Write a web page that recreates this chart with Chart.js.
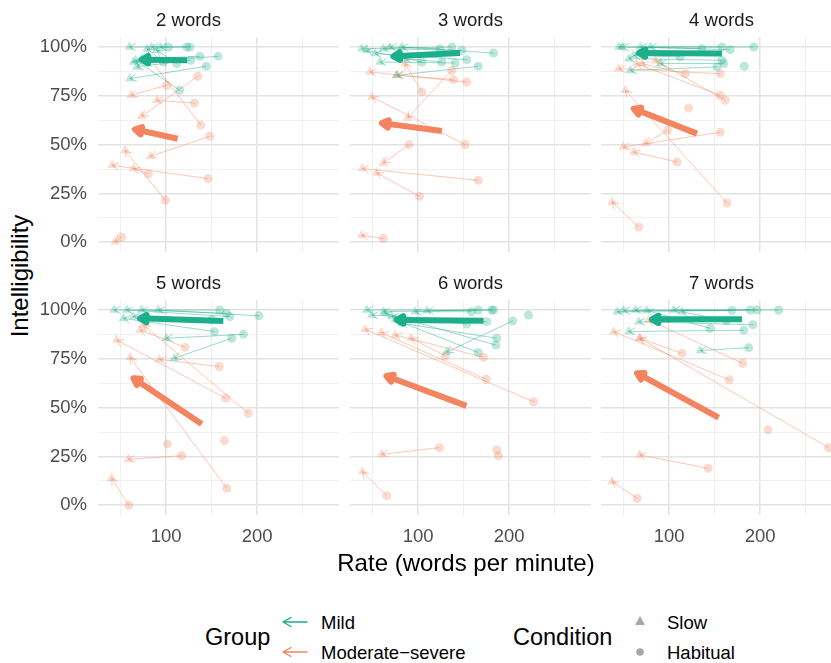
<!DOCTYPE html>
<html>
<head>
<meta charset="utf-8">
<script src="https://cdn.jsdelivr.net/npm/chart.js@4.4.1/dist/chart.umd.min.js"></script>
<style>
html, body { margin: 0; padding: 0; width: 831px; height: 663px; overflow: hidden; background: #fff; }
body { font-family: 'Liberation Sans', Arial, sans-serif; }
.panel { position: absolute; }
.txt { position: absolute; white-space: nowrap; color: #000; transform: translateY(-50%); line-height: 1; }
</style>
</head>
<body>
<div id="panels"></div>
<div class="txt" id="ytitle" style="left:20px; top:276px; font-size:24px; transform: translate(-50%,-50%) rotate(-90deg);">Intelligibility</div>
<div class="txt" id="xtitle" style="left:466px; top:563px; font-size:24px; transform: translate(-50%,-50%);">Rate (words per minute)</div>

<div class="txt" style="left:205px; top:638px; font-size:23.5px;">Group</div>
<div class="txt" style="left:321px; top:623px; font-size:18.5px;" id="lgMild"></div>
<div class="txt" style="left:321px; top:653px; font-size:18.5px;" id="lgMod"></div>
<div class="txt" style="left:513px; top:638px; font-size:23.5px;">Condition</div>
<div class="txt" style="left:667px; top:623px; font-size:18.5px;" id="lgSlow"></div>
<div class="txt" style="left:667px; top:653px; font-size:18.5px;" id="lgHab"></div>
<svg width="831" height="663" style="position:absolute; left:0; top:0; pointer-events:none;">
  <g fill="none" stroke-width="1.4" stroke-linecap="round">
    <path id="arMild" d="M283 622 H307 M283 622 L291 617.5 M283 622 L291 626.5"/>
    <path id="arMod" d="M283 652 H307 M283 652 L291 647.5 M283 652 L291 656.5"/>
  </g>
  <polygon points="640,616 645,625 635,625" fill="#a8a8a8"/>
  <circle cx="640" cy="652" r="3.8" fill="#a8a8a8"/>
</svg>

<script>
// --- categorías y ejes ---
const panelTitles = ['2 words', '3 words', '4 words', '5 words', '6 words', '7 words'];
const groups = ['Mild', 'Moderate\u2212severe'];
const conditions = ['Slow', 'Habitual'];
const xTickLabels = [100, 200];
const yTickLabels = [0, 25, 50, 75, 100];

// filas por hablante: [rate habitual, % habitual, rate slow, % slow]
const mild2 = [[126, 100, 59.5, 100], [122.5, 100, 84, 100], [102.5, 100, 93.4, 100], [157, 95.2, 64, 92.3],
  [144, 90.1, 60, 83.8], [137, 95.2, 73, 94], [115, 77.8, 66.5, 93.2], [127, 93.2, 67.6, 89.8],
  [111.5, 91.5, 89.5, 98.3], [97, 92.3, 79, 99]];
const mod2 = [[134.8, 85, 73, 64.5], [100.5, 80.4, 61.5, 75.3], [131, 71.3, 89.5, 72.7], [138, 60, 82, 94],
  [148, 54.3, 82.6, 44], [146, 32.6, 40.6, 39.4], [99, 21.5, 54.8, 47], [80.4, 35, 64, 37.7], [51, 2.7, 43.8, 0.2]];

const mild3 = [[137, 100, 37.9, 99.1], [148, 98.3, 61.7, 99.1], [182.8, 96.9, 82, 100], [166, 90.1, 76.4, 85.5],
  [153.4, 93.5, 52.6, 96.6], [140.6, 91.8, 58, 92.3], [126, 92.3, 85.6, 94], [104, 92.3, 43.4, 98.3], [124, 99.1, 69, 100]];
const mod3 = [[153.4, 82, 47, 87.2], [138.8, 83.3, 76.4, 85.5], [104, 77, 85.6, 91.5], [137, 88, 88.5, 63.8],
  [151.6, 50, 49, 74.4], [90, 50, 61.7, 40.6], [166, 31.7, 38.6, 37.7], [101.4, 23.5, 54.4, 35.5], [61.7, 1.9, 37.9, 3.6]];

const mild4 = [[192.9, 100, 79.3, 100], [158, 100, 44.5, 100], [167, 98.6, 68.3, 100], [158, 93.2, 55.5, 94],
  [160, 91.5, 90.3, 91.5], [152.6, 89.8, 57.3, 88], [182.6, 90.1, null, null], [136, 99.1, 48.2, 100], [112, 94.9, 61, 95.7]];
const mod4 = [[156, 86.3, 44.5, 88.9], [117.8, 86.3, 70.2, 91.5], [161.7, 72.7, 85, 93], [156, 75.3, 64, 91.5],
  [121.5, 68.8, null, null], [98.3, 57.3, 73.8, 50.5], [156, 56.3, 49.5, 48.8], [108.6, 41.1, 61, 46.2],
  [163.5, 20.1, 51.8, 77.8], [66.5, 7.8, 37.2, 20.6]];

const mild5 = [[159, 100, 42.6, 100], [170, 96.6, 56.6, 100], [202, 97, 91.3, 100], [153, 88.9, 53, 95.7],
  [185, 87.5, 100, 85.5], [172, 85.5, 109, 75.3], [166, 98.3, 73, 100], [150, 95, 64, 96.6]];
const mod5 = [[120.7, 80.9, 71.2, 89.8], [158.4, 71, 92.5, 74.7], [165.4, 54.8, 45.6, 84.6], [190.3, 47.1, 75, 92.3],
  [166.5, 8.7, 60.3, 75.8], [101.3, 31.4, null, null], [164, 33.1, null, null], [117, 25.4, 58.4, 23.5], [59, 0, 40, 13.8]];

const mild6 = [[181, 100, 43.4, 100], [166, 100, 61.7, 99.1], [158.6, 99.1, 96.6, 99.1], [175.4, 94, 48.9, 97.4],
  [153.4, 92.8, 71, 96.6], [186.4, 85.5, 82, 93.2], [185.3, 82, 63.6, 98.3], [166, 78.2, 74.6, 95],
  [204, 94.4, 131.5, 78.5], [221.3, 97.4, null, null], [182.8, 100, 109.6, 99.6]];
const mod6 = [[129.6, 76.5, 92.2, 85.5], [171.8, 75.8, 74.6, 87.2], [174.7, 64.5, 59.2, 88.4], [226.8, 53, 41.6, 90.1],
  [123.4, 29.5, 60, 26.1], [186.4, 28.3, null, null], [188.2, 25.3, null, null], [65.4, 4.9, 38.6, 17.2]];

const mild7 = [[220.3, 100, 105, 100], [196.5, 100, 42.7, 99.1], [189.2, 100, 62.8, 100], [169, 99.7, 50, 99.7],
  [192, 92.4, 66.5, 94], [182, 89.6, 55.5, 89], [187.4, 80.7, 134, 79.2], [145, 90.6, 75.6, 99.7], [163, 94.5, 114, 99.1]];
const mod7 = [[114, 77.8, 67.6, 85.5], [180.8, 72.7, 77.4, 94.9], [166, 64.2, 39, 88.9], [275.3, 29.5, 67.6, 85.5],
  [208.6, 38.6, null, null], [142.8, 18.9, 67.6, 25.8], [64.8, 3.6, 37.2, 12.1]];

// flechas de promedio por panel: [rate habitual, % habitual, rate slow, % slow]
const mildMean = [[123, 93.2, 73, 93.5], [146, 96.9, 72.7, 95.2], [158, 96.6, 66.5, 96.9],
  [162.8, 94.4, 71.2, 95.7], [171.8, 94.5, 76.4, 94.9], [180, 95.2, 81, 95.2]];
const modMean = [[112.6, 53, 65.7, 57.8], [126, 57, 60, 61], [130.6, 55.6, 61, 68.4],
  [139, 41.6, 64, 65], [153, 50.9, 65, 66.2], [154.4, 44.9, 64.6, 67.6]];

const mildByPanel = [mild2, mild3, mild4, mild5, mild6, mild7];
const modByPanel = [mod2, mod3, mod4, mod5, mod6, mod7];

// --- estilo ---
const groupRGB = ['29,174,140', '243,132,95'];
const PLOT_W = 241, PLOT_H = 215, TITLE_H = 37, YAXIS_W = 60, XAXIS_H = 40;
const colLeft = [98, 350, 601];
const rowTop = [37, 300];

Chart.defaults.font.family = "'Liberation Sans', Arial, sans-serif";

document.getElementById('lgMild').textContent = groups[0];
document.getElementById('lgMod').textContent = groups[1];
document.getElementById('lgSlow').textContent = conditions[0];
document.getElementById('lgHab').textContent = conditions[1];
document.getElementById('arMild').setAttribute('stroke', 'rgb(' + groupRGB[0] + ')');
document.getElementById('arMod').setAttribute('stroke', 'rgb(' + groupRGB[1] + ')');

const rgba = (g, a) => `rgba(${groupRGB[g]},${a})`;

// puntas de flecha dibujadas sobre los puntos ya escalados
const arrowHeads = {
    id: 'arrowHeads',
    afterDatasetDraw(chart, args) {
        const ds = chart.data.datasets[args.index];
        if (!ds.head) return;
        const a = args.meta.data[0], b = args.meta.data[1];
        const ang = Math.atan2(b.y - a.y, b.x - a.x);
        const ctx = chart.ctx;
        const thick = ds.head === 'closed';
        const len = thick ? 7.5 : 7;
        const spread = Math.PI / 6;
        const p1 = [b.x - len * Math.cos(ang - spread), b.y - len * Math.sin(ang - spread)];
        const p2 = [b.x - len * Math.cos(ang + spread), b.y - len * Math.sin(ang + spread)];
        ctx.save();
        ctx.strokeStyle = ds.borderColor;
        ctx.fillStyle = ds.borderColor;
        ctx.lineWidth = ds.borderWidth;
        ctx.lineJoin = 'round';
        ctx.lineCap = 'round';
        ctx.beginPath();
        if (thick) {
            ctx.moveTo(b.x, b.y);
            ctx.lineTo(p1[0], p1[1]);
            ctx.lineTo(p2[0], p2[1]);
            ctx.closePath();
            ctx.fill();
            ctx.stroke();
        } else {
            ctx.moveTo(p1[0], p1[1]);
            ctx.lineTo(b.x, b.y);
            ctx.lineTo(p2[0], p2[1]);
            ctx.stroke();
        }
        ctx.restore();
    }
};

function buildDatasets(p) {
    const sets = [];
    [[mildByPanel[p], mildMean[p]], [modByPanel[p], modMean[p]]].forEach(([rows, mean], g) => {
        rows.forEach(r => {
            if (r[2] === null) return;
            sets.push({
                data: [{ x: r[0], y: r[1] }, { x: r[2], y: r[3] }],
                showLine: true, borderColor: rgba(g, 0.45), borderWidth: 1,
                pointRadius: 0, head: 'open', order: 4 - g
            });
        });
        sets.push({
            data: rows.map(r => ({ x: r[0], y: r[1] })),
            pointStyle: 'circle', pointRadius: 4.5, backgroundColor: rgba(g, 0.3), borderWidth: 0, order: 2
        });
        sets.push({
            data: rows.filter(r => r[2] !== null).map(r => ({ x: r[2], y: r[3] })),
            pointStyle: 'triangle', pointRadius: 5.5, backgroundColor: rgba(g, 0.3), borderWidth: 0, order: 2
        });
        sets.push({
            data: [{ x: mean[0], y: mean[1] }, { x: mean[2], y: mean[3] }],
            showLine: true, borderColor: rgba(g, 1), borderWidth: 6, borderCapStyle: 'butt',
            pointRadius: 0, head: 'closed', order: g
        });
    });
    return sets;
}

function gridStyle(major) {
    return {
        drawTicks: false,
        color: c => (c.tick && major(c.tick.value)) ? '#e3e3e3' : '#f0f0f0',
        lineWidth: c => (c.tick && major(c.tick.value)) ? 1.5 : 1
    };
}

const holder = document.getElementById('panels');
panelTitles.forEach((title, p) => {
    const col = p % 3, row = Math.floor(p / 3);
    const leftCol = col === 0, bottomRow = row === 1;
    const box = document.createElement('div');
    box.className = 'panel';
    const w = PLOT_W + (leftCol ? YAXIS_W : 0);
    const h = TITLE_H + PLOT_H + (bottomRow ? XAXIS_H : 0);
    box.style.left = (colLeft[col] - (leftCol ? YAXIS_W : 0)) + 'px';
    box.style.top = (rowTop[row] - TITLE_H) + 'px';
    box.style.width = w + 'px';
    box.style.height = h + 'px';
    const canvas = document.createElement('canvas');
    box.appendChild(canvas);
    holder.appendChild(box);

    new Chart(canvas, {
        type: 'scatter',
        data: { datasets: buildDatasets(p) },
        options: {
            responsive: true,
            maintainAspectRatio: false,
            animation: false,
            events: [],
            layout: { padding: 0, autoPadding: false },
            plugins: {
                legend: { display: false },
                tooltip: { enabled: false },
                title: {
                    display: true, text: title, color: '#1a1a1a',
                    font: { size: 18.5, weight: 'normal', lineHeight: 1.2 },
                    padding: { top: 10, bottom: 5 }
                }
            },
            scales: {
                x: {
                    type: 'linear', min: 25, max: 290,
                    border: { display: false },
                    grid: gridStyle(v => v % 100 === 0),
                    ticks: {
                        display: bottomRow, stepSize: 50, includeBounds: false, autoSkip: false, maxRotation: 0,
                        padding: 11, color: '#4d4d4d', font: { size: 18.5 },
                        callback: v => xTickLabels.includes(v) ? String(v) : ''
                    },
                    afterFit: s => { s.height = bottomRow ? XAXIS_H : 0; s.paddingLeft = 0; s.paddingRight = 0; }
                },
                y: {
                    type: 'linear', min: -5, max: 105,
                    border: { display: false },
                    grid: gridStyle(v => v % 25 === 0),
                    ticks: {
                        display: leftCol, stepSize: 12.5, includeBounds: false, autoSkip: false,
                        padding: 11, color: '#4d4d4d', font: { size: 18.5 },
                        callback: v => yTickLabels.includes(v) ? v + '%' : ''
                    },
                    afterFit: s => { s.width = leftCol ? YAXIS_W : 0; s.paddingTop = 0; s.paddingBottom = 0; }
                }
            }
        },
        plugins: [arrowHeads]
    });
});
</script>
</body>
</html>
